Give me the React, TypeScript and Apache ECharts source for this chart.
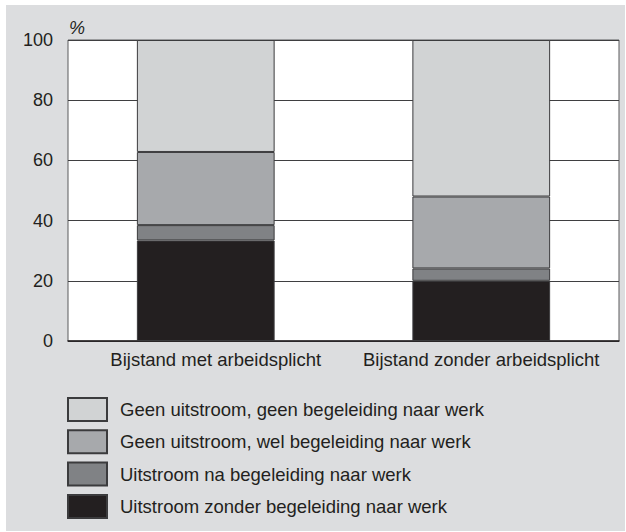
import React, { useEffect, useRef } from "react";
import * as echarts from "echarts";

const categories = ["Bijstand met arbeidsplicht", "Bijstand zonder arbeidsplicht"];
const seriesNames = [
  "Uitstroom zonder begeleiding naar werk",
  "Uitstroom na begeleiding naar werk",
  "Geen uitstroom, wel begeleiding naar werk",
  "Geen uitstroom, geen begeleiding naar werk",
];
const zonderBegeleiding = [33.4, 20.0];
const naBegeleiding = [5.1, 4.1];
const welBegeleiding = [24.3, 23.9];
const geenBegeleiding = [37.2, 52.0];
const yTicks = [0, 20, 40, 60, 80, 100];

const seriesValues = [zonderBegeleiding, naBegeleiding, welBegeleiding, geenBegeleiding];
const colors = ["#231f20", "#808285", "#a7a9ac", "#d1d3d4"];
const FONT = "'Liberation Sans', Arial, Helvetica, sans-serif";
const TEXT = "#231f20";

export default function App() {
  const ref = useRef<HTMLDivElement>(null);

  useEffect(() => {
    document.body.style.margin = "0";
    const chart = echarts.init(ref.current!, null, { renderer: "svg" });
    chart.setOption({
      animation: false,
      backgroundColor: "transparent",
      textStyle: { fontFamily: FONT, color: TEXT },
      grid: {
        left: 68,
        right: 7,
        top: 40,
        bottom: 191,
        show: true,
        backgroundColor: "#ffffff",
        borderColor: "#5a5b5d",
        borderWidth: 1,
      },
      legend: {
        orient: "vertical",
        left: 67,
        top: 397,
        padding: 0,
        itemWidth: 39,
        itemHeight: 23,
        itemGap: 7.3,
        icon: "rect",
        selectedMode: false,
        data: [...seriesNames].reverse(),
        textStyle: {
          fontFamily: FONT,
          fontSize: 18.5,
          color: TEXT,
          padding: [9, 0, 0, 8],
        },
      },
      xAxis: {
        type: "category",
        data: categories.map((c, i) =>
          i === 0 ? { value: c, textStyle: { padding: [0, 0, 0, 20] } } : c
        ),
        axisTick: { show: false },
        axisLine: { lineStyle: { color: "#231f20", width: 1.5 } },
        axisLabel: {
          fontSize: 18.5,
          color: TEXT,
          fontFamily: FONT,
          margin: 9,
          interval: 0,
          hideOverlap: false,
        },
      },
      yAxis: {
        type: "value",
        min: yTicks[0],
        max: yTicks[yTicks.length - 1],
        interval: 20,
        name: "%",
        nameLocation: "end",
        nameGap: 3,
        nameTextStyle: {
          fontStyle: "italic",
          fontSize: 18,
          color: TEXT,
          fontFamily: FONT,
          align: "left",
          padding: [0, 0, 0, 1],
        },
        axisLine: { show: false },
        axisTick: { show: false },
        axisLabel: { fontSize: 18, color: TEXT, fontFamily: FONT, margin: 15 },
        splitLine: { lineStyle: { color: "#3f3f41", width: 1 } },
      },
      series: seriesNames.map((name, i) => ({
        name,
        type: "bar",
        stack: "total",
        barWidth: "50%",
        data: seriesValues[i],
        itemStyle: { color: colors[i], borderColor: "#3b3b3d", borderWidth: 1 },
      })),
    });
    return () => chart.dispose();
  }, []);

  return (
    <div style={{ position: "relative", width: 626, height: 532, background: "#ffffff" }}>
      <div
        style={{
          position: "absolute",
          left: 6,
          top: 5,
          width: 619,
          height: 526,
          background: "#dcdddf",
        }}
      />
      <div ref={ref} style={{ position: "absolute", left: 0, top: 0, width: 626, height: 532 }} />
    </div>
  );
}
